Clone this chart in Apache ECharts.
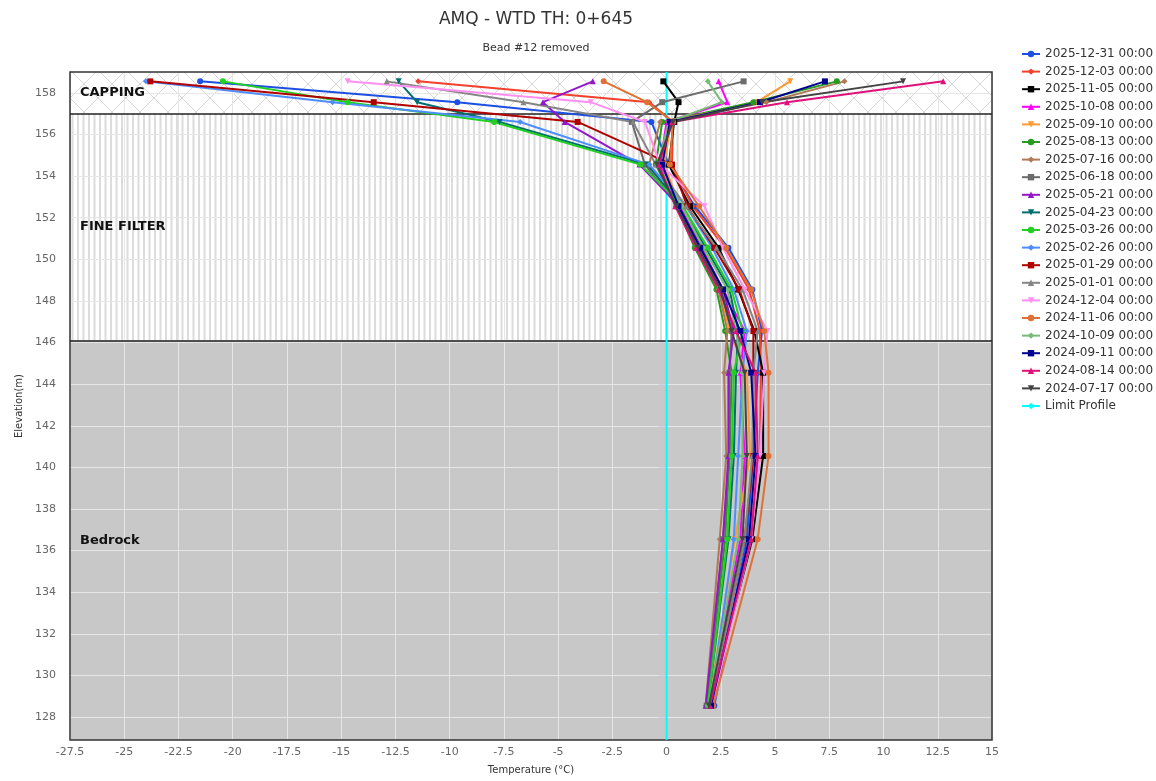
<!DOCTYPE html>
<html>
<head>
<meta charset="utf-8">
<title>AMQ - WTD TH: 0+645</title>
<script src="https://cdn.jsdelivr.net/npm/echarts@6/dist/echarts.min.js"></script>
<style>
  html, body { margin: 0; padding: 0; background: #fff; }
  #chart { width: 1156px; height: 781px; }
</style>
</head>
<body>
<div id="chart"></div>
<script>
// bead elevations (m), top to bottom
var elevations = [158.55, 157.55, 156.6, 154.55, 152.55, 150.55, 148.55, 146.55, 144.55, 140.55, 136.55, 128.55];

// temperature profiles (°C), one value per bead
var t20251231 = [-21.5, -9.65, -0.7, 0.1, 1.3, 2.85, 3.95, 4.4, 4.2, 4.0, 3.7, 2.2];
var t20251203 = [-11.45, -0.8, 0.3, 0.25, 1.2, 2.7, 3.8, 4.3, 4.35, 4.3, 3.85, 2.1];
var t20251105 = [-0.15, 0.55, 0.35, 0.1, 1.08, 2.4, 3.3, 4.05, 4.45, 4.45, 3.95, 2.0];
var t20251008 = [2.4, 2.8, 0.0, -0.3, 0.55, 1.6, 2.6, 3.6, 3.4, 3.6, 3.4, 1.9];
var t20250910 = [5.7, 4.15, 0.2, -0.1, 0.6, 1.7, 2.45, 2.9, 3.7, 3.85, 3.15, 1.95];
var t20250813 = [7.85, 4.0, -0.2, -0.5, 0.45, 1.3, 2.3, 2.7, 3.0, 2.9, 2.7, 1.85];
var t20250716 = [8.2, 4.6, -0.3, -0.8, 0.5, 1.4, 2.4, 2.8, 2.65, 2.75, 2.45, 1.8];
var t20250618 = [3.55, -0.2, -1.6, -1.0, 0.5, 1.45, 2.5, 3.0, 2.9, 2.9, 2.6, 1.85];
var t20250521 = [-3.4, -5.7, -4.7, -1.25, 0.6, 1.6, 2.6, 3.1, 2.85, 2.85, 2.6, 1.8];
var t20250423 = [-12.35, -11.5, -7.7, -0.9, 0.7, 1.8, 2.9, 3.3, 3.2, 3.1, 2.85, 1.9];
var t20250326 = [-20.45, -14.7, -7.95, -1.2, 0.75, 1.9, 3.0, 3.5, 3.1, 3.0, 2.8, 1.9];
var t20250226 = [-24.0, -15.4, -6.75, -0.8, 0.9, 2.1, 3.1, 3.7, 3.5, 3.3, 3.1, 2.0];
var t20250129 = [-23.8, -13.5, -4.1, 0.25, 0.95, 2.2, 3.35, 4.0, 4.0, 4.0, 3.6, 2.05];
var t20250101 = [-12.9, -6.6, -1.55, -0.5, 0.9, 2.3, 3.5, 4.2, 4.0, 3.95, 3.6, 2.05];
var t20241204 = [-14.7, -3.5, -1.0, -0.3, 1.75, 2.6, 3.6, 4.65, 4.5, 4.3, 3.9, 2.1];
var t20241106 = [-2.9, -0.9, 0.3, 0.15, 1.5, 2.75, 3.9, 4.5, 4.7, 4.7, 4.2, 2.15];
var t20241009 = [1.9, 2.55, 0.1, -0.4, 0.7, 1.7, 2.8, 3.2, 3.5, 3.5, 3.3, 1.95];
var t20240911 = [7.3, 4.3, 0.15, -0.2, 0.55, 1.55, 2.6, 3.4, 3.9, 4.1, 3.8, 2.05];
var t20240814 = [12.75, 5.55, 0.25, -0.35, 0.4, 1.35, 2.4, 3.2, 4.1, 4.2, 3.9, 2.0];
var t20240717 = [10.9, 4.4, 0.3, -0.45, 0.45, 1.45, 2.5, 3.0, 3.6, 3.7, 3.5, 1.95];

var dateNames = ['2025-12-31 00:00', '2025-12-03 00:00', '2025-11-05 00:00', '2025-10-08 00:00',
  '2025-09-10 00:00', '2025-08-13 00:00', '2025-07-16 00:00', '2025-06-18 00:00', '2025-05-21 00:00',
  '2025-04-23 00:00', '2025-03-26 00:00', '2025-02-26 00:00', '2025-01-29 00:00', '2025-01-01 00:00',
  '2024-12-04 00:00', '2024-11-06 00:00', '2024-10-09 00:00', '2024-09-11 00:00', '2024-08-14 00:00',
  '2024-07-17 00:00'];
var profiles = [t20251231, t20251203, t20251105, t20251008, t20250910, t20250813, t20250716, t20250618,
  t20250521, t20250423, t20250326, t20250226, t20250129, t20250101, t20241204, t20241106, t20241009,
  t20240911, t20240814, t20240717];

// limit profile
var limitTemp = [0, 0];
var limitElev = [159, 126.9];

// layer boundaries (m)
var cappingTop = 159;
var cappingBase = 157;
var filterBase = 146.1;
var bedrockBase = 126.9;

var elevTicks = [128, 130, 132, 134, 136, 138, 140, 142, 144, 146, 148, 150, 152, 154, 156, 158];

var colors = ['#1d4fe3', '#f2402a', '#000000', '#ff00ff', '#ff9933', '#269b1f', '#b07a56', '#6b6b6b',
  '#9416c9', '#006e6e', '#22d022', '#4d8dff', '#b00000', '#858585', '#ff90f0', '#e07034', '#77bb77',
  '#000090', '#e0107b', '#444444'];
var triDown = 'path://M0,0 L10,0 L5,10 Z';
var symbols = ['circle', 'diamond', 'rect', 'triangle', triDown];

function hatchPattern() {
  var c = document.createElement('canvas');
  c.width = 28; c.height = 28;
  var ctx = c.getContext('2d');
  ctx.fillStyle = '#ffffff';
  ctx.fillRect(0, 0, 28, 28);
  ctx.strokeStyle = '#d6d6d6';
  ctx.lineWidth = 1;
  ctx.beginPath();
  ctx.moveTo(0, 28); ctx.lineTo(28, 0);
  ctx.moveTo(0, 0); ctx.lineTo(28, 28);
  ctx.stroke();
  return c;
}

function stripePattern() {
  var c = document.createElement('canvas');
  c.width = 11; c.height = 4;
  var ctx = c.getContext('2d');
  ctx.fillStyle = '#ffffff';
  ctx.fillRect(0, 0, 11, 4);
  ctx.fillStyle = '#dcdcdc';
  ctx.fillRect(0, 0, 2, 4);
  ctx.fillRect(5.5, 0, 2, 4);
  return c;
}

var font = 'DejaVu Sans, Verdana, sans-serif';

var series = [];
// layer backgrounds and boundaries
series.push({
  name: 'zones',
  type: 'line',
  data: [],
  z: 1,
  silent: true,
  markArea: {
    silent: true,
    z: 1,
    label: { show: false },
    data: [
      [{ yAxis: cappingTop, itemStyle: { color: { image: hatchPattern(), repeat: 'repeat' } } }, { yAxis: cappingBase }],
      [{ yAxis: cappingBase, itemStyle: { color: { image: stripePattern(), repeat: 'repeat' } } }, { yAxis: filterBase }],
      [{ yAxis: filterBase, itemStyle: { color: '#c8c8c8' } }, { yAxis: bedrockBase }]
    ]
  },
  markLine: {
    silent: true,
    z: 3,
    symbol: ['none', 'none'],
    label: { show: false },
    lineStyle: { color: '#222', width: 1.5, type: 'solid' },
    data: [{ yAxis: cappingBase }, { yAxis: filterBase }]
  }
});
// layer names, above the grid lines
series.push({
  name: 'zoneLabels',
  type: 'line',
  data: [],
  z: 4,
  silent: true,
  markArea: {
    silent: true,
    z: 4,
    itemStyle: { color: 'transparent' },
    label: { show: true, position: 'insideLeft', distance: 10, color: '#111', fontSize: 13, fontWeight: 'bold', fontFamily: font },
    data: [
      [{ name: 'CAPPING', yAxis: cappingTop }, { yAxis: cappingBase }],
      [{ name: 'FINE FILTER', yAxis: cappingBase }, { yAxis: filterBase }],
      [{ name: 'Bedrock', yAxis: filterBase }, { yAxis: bedrockBase }]
    ]
  }
});

profiles.forEach(function (temps, i) {
  series.push({
    name: dateNames[i],
    type: 'line',
    z: 5,
    color: colors[i],
    symbol: symbols[i % 5],
    symbolSize: 6,
    lineStyle: { width: 2 },
    emphasis: { disabled: true },
    data: temps.map(function (t, k) { return [t, elevations[k]]; })
  });
});

series.push({
  name: 'Limit Profile',
  type: 'line',
  z: 4,
  color: '#00ffff',
  symbol: 'diamond',
  showSymbol: false,
  lineStyle: { width: 2 },
  emphasis: { disabled: true },
  data: limitTemp.map(function (t, k) { return [t, limitElev[k]]; })
});

var chart = echarts.init(document.getElementById('chart'));
chart.setOption({
  animation: false,
  title: {
    text: 'AMQ - WTD TH: 0+645',
    subtext: 'Bead #12 removed',
    left: 531,
    textAlign: 'center',
    top: 6,
    itemGap: 15,
    textStyle: { fontSize: 17, fontWeight: 'normal', color: '#333', fontFamily: font },
    subtextStyle: { fontSize: 11, color: '#333', fontFamily: font }
  },
  legend: {
    orient: 'vertical',
    left: 1016,
    top: 43,
    itemWidth: 18,
    itemHeight: 8,
    itemGap: 5.6,
    textStyle: { fontSize: 12, color: '#333', fontFamily: font },
    data: dateNames.concat(['Limit Profile'])
  },
  grid: {
    left: 70, right: 164, top: 72, bottom: 41,
    show: true, z: 3,
    borderColor: '#333', borderWidth: 1.5,
    backgroundColor: 'transparent'
  },
  xAxis: {
    type: 'value',
    min: -27.5, max: 15, interval: 2.5,
    z: 2,
    name: 'Temperature (°C)',
    nameLocation: 'middle',
    nameGap: 25,
    nameTextStyle: { fontSize: 10, color: '#333', fontFamily: font },
    axisLine: { show: false },
    axisTick: { show: false },
    axisLabel: { color: '#666', fontSize: 11, margin: 7, fontFamily: font },
    splitLine: { show: true, lineStyle: { color: '#e6e6e6', width: 1 } }
  },
  yAxis: {
    type: 'value',
    min: bedrockBase, max: cappingTop,
    z: 2,
    name: 'Elevation(m)',
    nameLocation: 'middle',
    nameGap: 42,
    nameTextStyle: { fontSize: 10, color: '#333', fontFamily: font },
    axisLine: { show: false },
    axisTick: { show: true, length: 8, customValues: elevTicks, lineStyle: { color: '#ccd6eb' } },
    axisLabel: { color: '#666', fontSize: 11, margin: 14, fontFamily: font, customValues: elevTicks },
    splitLine: { show: true, customValues: elevTicks, lineStyle: { color: '#e6e6e6', width: 1 } }
  },
  series: series
});
</script>
</body>
</html>
